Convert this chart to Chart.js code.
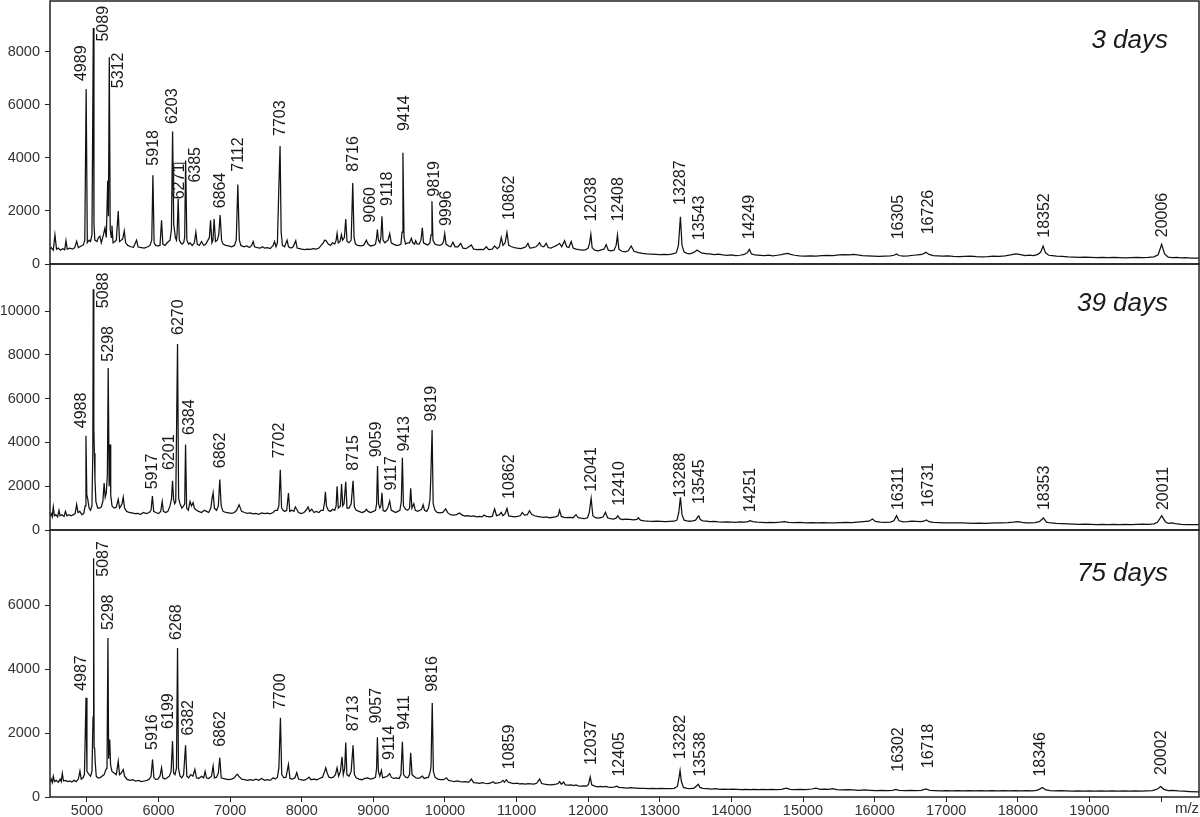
<!DOCTYPE html>
<html>
<head>
<meta charset="utf-8">
<script src="https://cdn.jsdelivr.net/npm/chart.js@4.4.0/dist/chart.umd.min.js"></script>
<style>
  body { margin: 0; background: #fff; }
  #wrap { position: relative; width: 1200px; height: 817px; overflow: hidden; }
  canvas { position: absolute; left: 0; }
</style>
</head>
<body>
<div id="wrap">
  <canvas id="c1" width="1200" height="272" style="top:0"></canvas>
  <canvas id="c2" width="1200" height="282" style="top:256px"></canvas>
  <canvas id="c3" width="1200" height="295" style="top:522px"></canvas>
</div>
<script>
// m/z axis
var mzMin = 4484, mzMax = 20530;
var xTicks = [5000, 6000, 7000, 8000, 9000, 10000, 11000, 12000, 13000, 14000, 15000, 16000, 17000, 18000, 19000, 20000];

// intensity ticks per panel
var yTicks3 = [0, 2000, 4000, 6000, 8000];
var yTicks39 = [0, 2000, 4000, 6000, 8000, 10000];
var yTicks75 = [0, 2000, 4000, 6000];

// spectra: [m/z, intensity]
var spec3 = [
  [4484,560],[4500,620],[4530,520],[4553,1100],[4575,560],[4600,600],[4630,520],[4660,580],[4690,540],[4707,880],[4725,560],[4760,600],[4800,560],[4830,620],[4856,860],[4880,620],[4920,680],[4950,720],[4970,900],[4989,6600],[5005,800],[5030,900],[5050,850],[5070,1100],[5089,8900],[5098,1500],[5110,900],[5140,850],[5160,1000],[5181,1050],[5200,800],[5230,1100],[5251,1350],[5270,1000],[5290,3150],[5300,1800],[5312,7800],[5325,1300],[5340,1000],[5349,1450],[5365,800],[5390,850],[5410,900],[5437,2000],[5455,850],[5480,900],[5500,950],[5521,1250],[5540,800],[5570,700],[5610,650],[5650,630],[5693,900],[5715,640],[5760,620],[5800,600],[5850,650],[5880,700],[5905,900],[5921,3350],[5938,800],[5960,700],[5990,680],[6020,700],[6042,1650],[6060,750],[6090,700],[6120,800],[6160,900],[6180,1300],[6196,5000],[6212,1500],[6235,1000],[6250,900],[6260,1200],[6274,2450],[6290,900],[6310,800],[6330,750],[6350,800],[6365,1000],[6378,3900],[6395,900],[6420,750],[6440,800],[6470,700],[6500,800],[6521,1200],[6540,750],[6570,700],[6600,850],[6630,700],[6660,750],[6690,900],[6710,1000],[6726,1650],[6745,800],[6760,900],[6776,1700],[6795,850],[6820,900],[6840,1100],[6860,1850],[6880,900],[6900,750],[6940,700],[6980,680],[7020,650],[7060,700],[7085,900],[7107,3000],[7128,900],[7150,700],[7190,650],[7230,680],[7270,620],[7300,700],[7321,850],[7340,650],[7380,620],[7420,600],[7450,650],[7480,600],[7520,620],[7560,580],[7600,700],[7620,850],[7640,650],[7660,800],[7680,2900],[7697,4450],[7712,1200],[7730,700],[7760,650],[7795,900],[7815,650],[7850,600],[7880,650],[7916,880],[7935,600],[7970,580],[8000,560],[8040,540],[8080,560],[8120,550],[8160,580],[8200,560],[8240,600],[8270,700],[8300,800],[8321,900],[8340,880],[8370,750],[8400,700],[8430,800],[8460,750],[8480,900],[8493,1150],[8510,800],[8535,850],[8554,1100],[8570,900],[8595,1000],[8614,1700],[8632,850],[8660,800],[8690,900],[8712,3050],[8730,1000],[8750,750],[8780,700],[8820,680],[8860,700],[8880,780],[8902,900],[8925,750],[8960,680],[9000,700],[9030,750],[9045,1000],[9056,1300],[9070,900],[9090,800],[9105,1000],[9120,1800],[9135,900],[9160,800],[9180,850],[9205,900],[9228,1150],[9250,800],[9280,750],[9320,700],[9350,700],[9385,750],[9400,1200],[9413,4200],[9428,1000],[9450,750],[9480,800],[9505,800],[9530,970],[9550,800],[9575,750],[9590,880],[9610,760],[9640,750],[9665,900],[9684,1370],[9700,800],[9730,750],[9760,720],[9790,800],[9805,1100],[9818,2370],[9832,900],[9860,750],[9890,720],[9930,700],[9960,750],[9980,850],[9996,1150],[10015,750],[10050,680],[10080,650],[10111,820],[10140,650],[10180,650],[10220,780],[10250,600],[10290,580],[10320,620],[10367,720],[10400,560],[10450,540],[10500,550],[10540,540],[10577,650],[10610,540],[10660,560],[10693,680],[10730,580],[10760,650],[10786,1000],[10810,700],[10840,800],[10865,1190],[10890,700],[10930,650],[10970,620],[11010,600],[11060,580],[11100,620],[11130,650],[11158,780],[11185,600],[11230,620],[11270,650],[11300,720],[11320,800],[11345,680],[11380,650],[11414,780],[11440,620],[11480,600],[11520,650],[11560,700],[11600,780],[11630,650],[11670,880],[11700,650],[11730,620],[11763,850],[11790,600],[11830,560],[11870,540],[11920,520],[11960,530],[12000,600],[12020,800],[12037,1120],[12055,620],[12090,520],[12140,500],[12190,540],[12220,560],[12251,730],[12280,520],[12320,500],[12360,520],[12390,700],[12409,1090],[12428,560],[12470,480],[12520,460],[12560,500],[12600,680],[12640,480],[12700,430],[12760,400],[12820,380],[12880,370],[12940,360],[13000,350],[13060,360],[13120,350],[13180,380],[13230,420],[13260,700],[13288,1780],[13310,700],[13340,450],[13380,400],[13420,380],[13460,420],[13500,480],[13520,530],[13545,480],[13580,420],[13620,400],[13660,380],[13700,380],[13760,350],[13820,370],[13880,340],[13940,330],[14000,340],[14060,320],[14120,330],[14180,360],[14220,420],[14251,550],[14280,380],[14330,340],[14400,330],[14460,320],[14520,330],[14580,310],[14640,330],[14700,350],[14740,380],[14785,400],[14830,360],[14880,330],[14950,310],[15020,300],[15100,310],[15180,300],[15260,320],[15340,330],[15420,320],[15500,340],[15580,350],[15650,340],[15700,365],[15760,340],[15830,320],[15900,310],[15980,300],[16060,290],[16140,300],[16220,310],[16270,330],[16306,380],[16340,320],[16400,300],[16470,310],[16540,330],[16600,340],[16660,360],[16716,440],[16760,360],[16820,320],[16880,310],[16950,300],[17020,310],[17100,290],[17180,280],[17260,290],[17340,300],[17420,280],[17500,270],[17580,280],[17660,300],[17740,290],[17820,310],[17900,340],[17972,380],[18040,350],[18100,320],[18160,330],[18220,320],[18280,360],[18320,450],[18353,680],[18385,430],[18430,330],[18480,320],[18540,300],[18620,290],[18700,270],[18780,260],[18860,250],[18940,260],[19020,250],[19100,240],[19180,250],[19260,240],[19340,250],[19420,240],[19500,230],[19580,240],[19660,250],[19740,240],[19820,250],[19900,270],[19960,350],[20008,740],[20050,380],[20100,260],[20160,240],[20220,250],[20280,230],[20340,240],[20420,220],[20530,220]
];

var spec39 = [
  [4484,650],[4500,750],[4515,600],[4530,1050],[4545,650],[4565,700],[4590,600],[4610,900],[4625,650],[4650,700],[4680,620],[4700,850],[4720,650],[4750,700],[4780,650],[4810,700],[4835,750],[4856,1170],[4875,800],[4900,850],[4930,700],[4955,750],[4975,1100],[4986,4300],[4998,1600],[5012,1400],[5030,1000],[5050,900],[5070,1100],[5082,3600],[5088,11000],[5096,4600],[5104,3500],[5112,2300],[5125,1300],[5150,1000],[5175,1000],[5200,1050],[5222,1300],[5240,2150],[5255,1500],[5270,1700],[5285,2500],[5297,7400],[5310,2000],[5322,3900],[5332,1600],[5350,1100],[5380,1000],[5410,1050],[5437,1400],[5455,1000],[5475,1100],[5490,1200],[5507,1500],[5525,1000],[5555,850],[5590,800],[5630,780],[5670,750],[5710,760],[5750,720],[5790,800],[5830,750],[5870,800],[5895,900],[5914,1550],[5932,850],[5960,800],[6000,750],[6030,850],[6051,1300],[6068,850],[6100,800],[6130,850],[6160,1100],[6180,1400],[6195,2250],[6210,1400],[6225,1200],[6240,1300],[6265,8500],[6280,1450],[6300,1200],[6325,1000],[6350,1100],[6365,1200],[6377,3900],[6392,1000],[6415,900],[6440,1300],[6460,1100],[6483,1250],[6500,1000],[6530,900],[6560,850],[6600,800],[6640,900],[6670,850],[6700,800],[6730,1000],[6745,1400],[6762,1700],[6780,1000],[6810,900],[6835,1100],[6855,2300],[6875,1100],[6900,850],[6940,800],[6980,780],[7020,760],[7060,800],[7090,900],[7125,1150],[7160,850],[7200,800],[7240,760],[7280,780],[7320,740],[7360,760],[7400,720],[7440,780],[7480,750],[7520,770],[7560,740],[7600,800],[7630,900],[7660,900],[7680,1100],[7700,2750],[7718,1000],[7740,900],[7760,850],[7790,900],[7814,1690],[7832,850],[7860,900],[7890,850],[7910,1050],[7930,950],[7955,800],[7990,750],[8030,800],[8060,900],[8088,1050],[8110,850],[8140,950],[8170,800],[8200,850],[8240,800],[8270,900],[8300,900],[8320,1300],[8330,1750],[8345,1100],[8370,900],[8400,850],[8430,950],[8460,900],[8480,1100],[8493,2000],[8510,1000],[8540,1100],[8556,2100],[8572,1100],[8590,1200],[8614,2200],[8632,1000],[8660,1000],[8690,1200],[8716,2250],[8735,1050],[8760,900],[8800,850],[8840,800],[8880,850],[8902,950],[8925,850],[8960,800],[9000,850],[9030,900],[9045,1200],[9058,2920],[9072,1200],[9090,1000],[9105,1100],[9120,1700],[9135,900],[9160,850],[9180,900],[9200,1000],[9228,1320],[9250,900],[9280,850],[9310,800],[9340,850],[9370,900],[9390,1300],[9405,3300],[9420,1100],[9450,950],[9480,900],[9505,1000],[9521,1900],[9538,1000],[9565,1200],[9585,900],[9620,850],[9650,900],[9675,950],[9695,1150],[9715,900],[9745,850],[9770,1000],[9790,1400],[9802,2400],[9820,4570],[9835,1200],[9860,900],[9890,800],[9930,780],[9970,800],[10009,960],[10040,780],[10080,700],[10120,680],[10160,700],[10206,780],[10240,680],[10280,640],[10320,660],[10360,620],[10400,640],[10440,600],[10480,620],[10520,600],[10544,680],[10580,620],[10620,600],[10660,620],[10693,960],[10720,650],[10760,700],[10786,800],[10810,650],[10840,750],[10866,980],[10890,640],[10930,620],[10970,600],[11010,620],[11050,650],[11080,800],[11110,680],[11150,700],[11180,880],[11210,720],[11250,650],[11290,620],[11330,600],[11380,580],[11420,600],[11460,560],[11500,580],[11540,600],[11580,650],[11600,910],[11625,620],[11660,580],[11700,560],[11740,580],[11790,560],[11830,700],[11860,560],[11900,540],[11950,520],[11990,560],[12015,800],[12041,1450],[12065,650],[12100,560],[12140,540],[12180,560],[12210,600],[12241,810],[12270,560],[12310,520],[12350,500],[12390,540],[12413,650],[12440,520],[12480,480],[12530,500],[12580,480],[12630,460],[12680,480],[12700,560],[12730,450],[12780,420],[12840,400],[12900,390],[12960,400],[13020,390],[13080,380],[13140,390],[13200,400],[13240,450],[13265,800],[13288,1490],[13310,700],[13340,450],[13380,420],[13420,400],[13460,420],[13500,450],[13530,600],[13545,650],[13565,480],[13600,420],[13650,400],[13700,380],[13760,390],[13820,370],[13880,360],[13940,370],[14000,360],[14060,350],[14120,370],[14180,360],[14230,380],[14260,425],[14300,380],[14360,360],[14420,350],[14480,340],[14540,350],[14600,340],[14680,360],[14740,380],[14800,350],[14880,340],[14960,350],[15040,330],[15120,340],[15200,330],[15280,340],[15360,320],[15440,330],[15520,340],[15600,350],[15680,340],[15760,360],[15840,380],[15920,400],[15971,500],[16010,390],[16080,360],[16150,350],[16220,360],[16270,420],[16306,650],[16340,420],[16400,370],[16460,380],[16520,400],[16580,390],[16640,380],[16690,400],[16724,460],[16760,380],[16820,350],[16900,340],[16980,330],[17060,320],[17140,330],[17220,320],[17300,310],[17380,300],[17460,310],[17540,300],[17620,310],[17700,320],[17780,330],[17860,340],[17940,360],[18000,380],[18060,350],[18120,330],[18180,320],[18240,340],[18300,380],[18357,550],[18400,360],[18460,320],[18540,300],[18620,290],[18700,280],[18780,270],[18860,260],[18940,270],[19020,260],[19100,250],[19180,260],[19260,250],[19340,260],[19420,250],[19500,260],[19580,250],[19660,260],[19740,270],[19820,260],[19900,280],[19950,350],[20009,655],[20060,380],[20100,300],[20150,320],[20200,290],[20280,260],[20360,250],[20440,240],[20530,240]
];

var spec75 = [
  [4484,480],[4500,560],[4515,450],[4530,650],[4545,480],[4570,520],[4600,460],[4625,560],[4640,480],[4656,740],[4672,500],[4700,520],[4730,480],[4760,500],[4790,470],[4820,520],[4850,480],[4880,560],[4902,810],[4920,560],[4945,600],[4965,700],[4987,3100],[5000,800],[5015,750],[5030,700],[5050,650],[5070,800],[5085,2500],[5093,7470],[5100,1540],[5108,1500],[5115,1100],[5130,650],[5150,600],[5180,600],[5210,650],[5240,700],[5265,860],[5280,900],[5293,4970],[5303,1200],[5318,1800],[5330,1000],[5350,800],[5380,750],[5410,700],[5437,1120],[5455,700],[5480,750],[5507,860],[5525,650],[5560,550],[5600,520],[5640,540],[5680,500],[5720,520],[5760,480],[5800,500],[5840,520],[5870,560],[5895,650],[5916,1175],[5935,600],[5960,550],[5990,560],[6020,650],[6042,915],[6060,600],[6090,560],[6120,600],[6150,650],[6175,800],[6195,1750],[6210,750],[6230,700],[6250,900],[6265,4660],[6278,900],[6300,650],[6325,600],[6350,700],[6377,1620],[6395,650],[6420,600],[6450,700],[6480,650],[6507,860],[6530,600],[6560,580],[6600,650],[6630,600],[6650,800],[6670,600],[6700,580],[6740,650],[6762,970],[6780,600],[6810,620],[6835,750],[6855,1230],[6875,600],[6900,580],[6940,560],[6980,540],[7020,560],[7060,600],[7085,680],[7102,710],[7120,650],[7160,560],[7200,540],[7240,520],[7280,540],[7320,520],[7360,560],[7400,520],[7440,580],[7480,520],[7520,540],[7560,520],[7600,600],[7630,560],[7660,620],[7680,900],[7702,2475],[7720,700],[7750,600],[7780,620],[7814,1020],[7835,580],[7870,560],[7905,600],[7930,760],[7955,560],[7990,540],[8030,520],[8070,560],[8100,620],[8130,540],[8170,560],[8210,540],[8250,580],[8290,620],[8320,800],[8335,915],[8355,750],[8380,620],[8410,600],[8440,620],[8470,700],[8493,915],[8515,650],[8540,800],[8562,1260],[8580,700],[8600,900],[8614,1700],[8630,700],[8660,650],[8690,800],[8716,1620],[8735,700],[8760,600],[8800,560],[8840,540],[8880,580],[8920,600],[8960,560],[9000,580],[9030,620],[9045,900],[9056,1870],[9070,800],[9090,650],[9112,830],[9130,600],[9160,620],[9190,640],[9228,730],[9250,620],[9280,580],[9320,600],[9360,580],[9385,700],[9405,1725],[9422,700],[9450,620],[9480,600],[9505,700],[9521,1380],[9540,700],[9565,650],[9590,600],[9620,580],[9650,600],[9684,655],[9710,580],[9740,600],[9770,620],[9795,800],[9805,970],[9822,2940],[9838,800],[9860,620],[9900,560],[9940,540],[9980,540],[10019,600],[10050,520],[10090,500],[10130,480],[10170,500],[10210,480],[10250,470],[10290,480],[10330,460],[10368,560],[10400,450],[10440,440],[10480,430],[10520,450],[10560,430],[10600,420],[10640,440],[10670,480],[10700,430],[10740,440],[10780,460],[10810,520],[10830,460],[10856,540],[10880,470],[10920,440],[10960,420],[11000,430],[11040,410],[11080,420],[11120,400],[11160,420],[11200,410],[11240,400],[11280,430],[11321,560],[11350,420],[11390,400],[11430,390],[11470,380],[11510,390],[11550,400],[11580,420],[11600,480],[11625,400],[11657,470],[11680,380],[11720,370],[11760,380],[11800,360],[11830,380],[11860,350],[11900,340],[11940,350],[11980,340],[12005,400],[12028,625],[12050,380],[12090,340],[12130,320],[12170,330],[12210,320],[12246,330],[12280,310],[12320,300],[12360,310],[12399,340],[12430,300],[12480,290],[12540,280],[12600,290],[12660,280],[12720,270],[12780,270],[12840,260],[12900,270],[12960,260],[13020,270],[13080,260],[13140,260],[13200,270],[13245,330],[13268,600],[13283,830],[13300,500],[13330,300],[13380,270],[13430,260],[13480,280],[13515,350],[13539,400],[13560,300],[13600,270],[13660,260],[13720,250],[13780,260],[13840,240],[13900,250],[13960,240],[14020,250],[14080,240],[14140,230],[14200,240],[14260,230],[14320,240],[14380,230],[14440,240],[14500,230],[14560,240],[14620,230],[14700,240],[14763,280],[14820,240],[14880,230],[14960,240],[15040,230],[15120,250],[15181,280],[15240,240],[15300,250],[15360,240],[15413,260],[15470,230],[15540,220],[15620,230],[15700,220],[15780,210],[15860,220],[15940,210],[16020,200],[16100,210],[16180,200],[16250,210],[16297,240],[16340,210],[16420,200],[16500,210],[16580,200],[16650,210],[16716,250],[16770,210],[16840,200],[16920,190],[17000,200],[17080,190],[17160,200],[17240,190],[17320,200],[17400,190],[17480,200],[17560,190],[17640,200],[17720,190],[17800,200],[17880,190],[17960,200],[18040,190],[18120,200],[18200,190],[18260,210],[18300,240],[18344,300],[18390,220],[18450,200],[18520,190],[18600,200],[18680,190],[18760,180],[18840,190],[18920,180],[19000,190],[19080,180],[19160,190],[19240,180],[19320,190],[19400,180],[19480,190],[19560,180],[19640,190],[19720,180],[19800,190],[19880,200],[19950,250],[19995,330],[20040,240],[20100,200],[20160,210],[20240,190],[20320,180],[20400,170],[20530,160]
];

// peak labels (text is the m/z of the peak)
var peaks3 = ['4989','5089','5312','5918','6203','6271','6385','6864','7112','7703','8716','9060','9118','9414','9819','9996','10862','12038','12408','13287','13543','14249','16305','16726','18352','20006'];
var peaks39 = ['4988','5088','5298','5917','6201','6270','6384','6862','7702','8715','9059','9117','9413','9819','10862','12041','12410','13288','13545','14251','16311','16731','18353','20011'];
var peaks75 = ['4987','5087','5298','5916','6199','6268','6382','6862','7700','8713','9057','9114','9411','9816','10859','12037','12405','13282','13538','16302','16718','18346','20002'];

// label placement: intensity where each label starts, and horizontal nudge in px
var labelAt3 = [6900,8390,6630,3710,5280,2440,3070,2100,3480,4830,3480,1560,2190,5020,2540,1430,1660,1600,1600,2230,900,930,930,1120,990,1010];
var labelDx3 = [-4.5,10,9.7,1.3,-0.8,2,9.6,0.3,0.1,0.5,1,-7,6,2,2.3,2,2.6,0.7,0.8,0,0.6,0.7,1.8,1.7,1.9,1.2];
var labelAt39 = [4650,10130,7690,1860,2740,8910,4340,2820,3280,2710,3320,1800,3580,4960,1420,1750,1110,1490,1190,810,910,1040,910,910];
var labelDx39 = [-4.5,10,0,0,-3,0.5,4,0.3,-0.5,0.3,-1,10,1.5,0,3,0.5,1.6,0,1,1.5,1.5,1.3,1,1.3];
var labelAt75 = [3320,6890,5220,1470,2130,4910,1920,1570,2750,2060,2300,1160,2100,3290,870,1000,640,1180,640,790,900,640,690];
var labelDx75 = [-4.5,10,0,0,-4.5,-1,2.5,0,0.3,0.3,-1,8,1.5,1,3,0.5,2,0.5,2,2.7,3,-2,0.5];

var FONT = '"Liberation Sans", Arial, Helvetica, sans-serif';
var INK = '#1a1a1a';

function panelPlugin(p) {
  return {
    id: 'panel',
    afterDatasetsDraw: function(chart) {
      var ctx = chart.ctx, a = chart.chartArea;
      var xs = chart.scales.x, ys = chart.scales.y;
      ctx.save();
      ctx.fillStyle = INK;
      ctx.font = '16px ' + FONT;
      ctx.textAlign = 'left';
      ctx.textBaseline = 'middle';
      p.peaks.forEach(function(t, i) {
        var x = xs.getPixelForValue(Number(t)) + p.dx[i];
        var y = ys.getPixelForValue(p.at[i]);
        ctx.save();
        ctx.translate(x, y);
        ctx.rotate(-Math.PI / 2);
        ctx.fillText(t, 0, 0);
        ctx.restore();
      });
      // bracket joining 6203 and 6385 in the first panel
      if (p.bracket) {
        ctx.strokeStyle = INK;
        ctx.lineWidth = 1;
        ctx.beginPath();
        ctx.moveTo(xs.getPixelForValue(p.bracket[0]), ys.getPixelForValue(p.bracket[3]));
        ctx.lineTo(xs.getPixelForValue(p.bracket[0]), ys.getPixelForValue(p.bracket[2]));
        ctx.lineTo(xs.getPixelForValue(p.bracket[1]), ys.getPixelForValue(p.bracket[2]));
        ctx.stroke();
      }
      ctx.font = 'italic 26px ' + FONT;
      ctx.textAlign = 'right';
      ctx.textBaseline = 'alphabetic';
      ctx.fillText(p.title, 1168, a.top + p.titleDy);
      if (p.showX) {
        ctx.font = '15px ' + FONT;
        ctx.fillStyle = '#333';
        ctx.textAlign = 'center';
        ctx.textBaseline = 'middle';
        ctx.fillText('m/z', 1187, a.bottom + 12);
      }
      ctx.strokeStyle = '#222';
      ctx.lineWidth = 1.5;
      ctx.strokeRect(a.left, a.top, a.right - a.left, a.bottom - a.top);
      ctx.restore();
    }
  };
}

function makePanel(id, spec, yMax, yTicks, p, pad) {
  var tickFont = { family: FONT, size: 14.5 };
  return new Chart(document.getElementById(id), {
    type: 'line',
    data: {
      datasets: [{
        data: spec.map(function(d) { return { x: d[0], y: d[1] }; }),
        borderColor: '#111',
        borderWidth: 1.25,
        pointRadius: 0,
        tension: 0,
        fill: false
      }]
    },
    options: {
      responsive: false,
      animation: false,
      devicePixelRatio: 1,
      layout: { padding: pad },
      plugins: { legend: { display: false }, tooltip: { enabled: false } },
      scales: {
        x: {
          type: 'linear',
          min: mzMin,
          max: mzMax,
          display: p.showX,
          afterBuildTicks: function(s) { s.ticks = xTicks.map(function(v) { return { value: v }; }); },
          afterFit: function(s) { s.height = p.showX ? 20 : 0; s.paddingLeft = 0; s.paddingRight = 0; },
          ticks: {
            callback: function(v) { return v === 20000 ? '' : String(v); },
            font: tickFont, color: '#333', padding: 0, maxRotation: 0, autoSkip: false
          },
          grid: { drawOnChartArea: false, drawTicks: true, tickLength: 5, color: '#222' },
          border: { display: false }
        },
        y: {
          type: 'linear',
          min: 0,
          max: yMax,
          afterBuildTicks: function(s) { s.ticks = yTicks.map(function(v) { return { value: v }; }); },
          afterFit: function(s) { s.width = 50; s.paddingTop = 0; s.paddingBottom = 0; },
          ticks: {
            callback: function(v) { return String(v); },
            font: tickFont, color: '#333', padding: 5, autoSkip: false
          },
          grid: { drawOnChartArea: false, drawTicks: true, tickLength: 5, color: '#222' },
          border: { display: false }
        }
      }
    },
    plugins: [panelPlugin(p)]
  });
}

makePanel('c1', spec3, 9920, yTicks3,
  { peaks: peaks3, at: labelAt3, dx: labelDx3, title: '3 days', titleDy: 47, showX: false, bracket: [6212, 6385, 3800, 2450] },
  { top: 1, right: 1, bottom: 8, left: 0 });
makePanel('c2', spec39, 12150, yTicks39,
  { peaks: peaks39, at: labelAt39, dx: labelDx39, title: '39 days', titleDy: 47, showX: false },
  { top: 8, right: 1, bottom: 8, left: 0 });
makePanel('c3', spec75, 8350, yTicks75,
  { peaks: peaks75, at: labelAt75, dx: labelDx75, title: '75 days', titleDy: 51, showX: true },
  { top: 8, right: 1, bottom: 0, left: 0 });
</script>
</body>
</html>
